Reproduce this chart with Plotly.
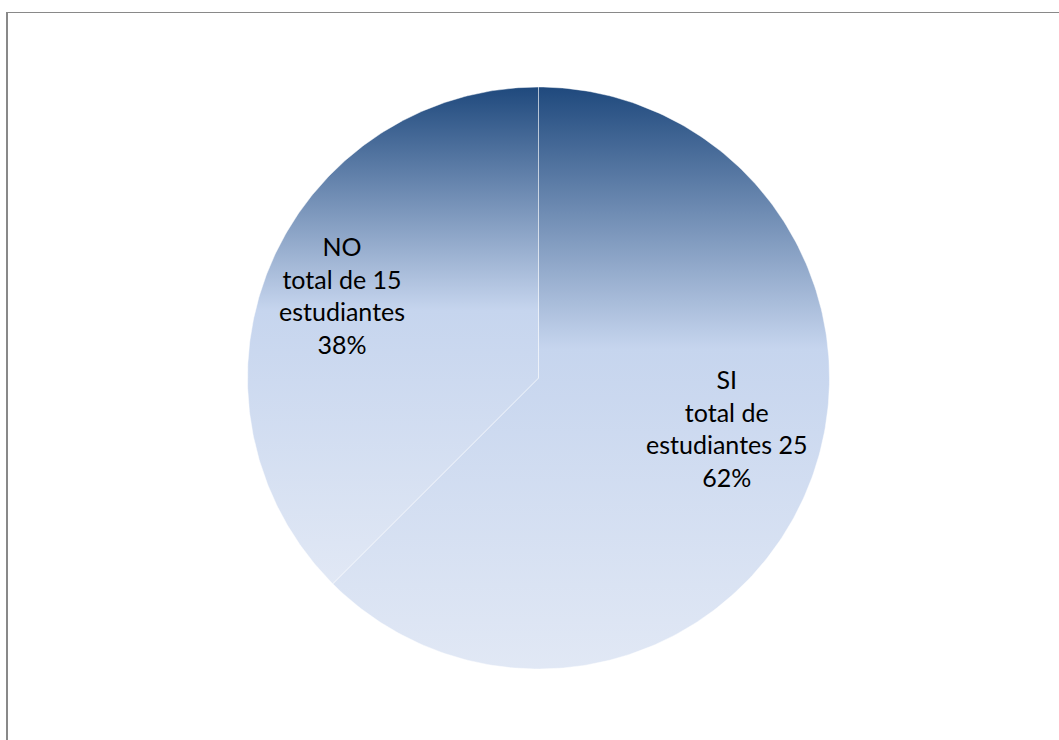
import numpy as np
import plotly.graph_objects as go

# Survey answers
categories = ["SI", "NO"]
students = [25, 15]
label_templates = [
    "{cat}<br>total de<br>estudiantes {n}<br>{pct}%",
    "{cat}<br>total de {n}<br>estudiantes<br>{pct}%",
]

# Canvas geometry (pixels): pie centre and radius
W, H = 1059, 740
CX, CY, R = 538.5, 378.0, 291.0

# Vertical gradient for every slice (0 = bottom of slice, 1 = top)
slice_gradient = [[0.0, "#e1e8f5"], [0.55, "#c6d5ee"], [1.0, "#1f497d"]]

total = sum(students)
fig = go.Figure()

# Slices laid out clockwise from 12 o'clock, in units of the radius
start = 90.0
label_pos = {"SI": (0.646, -0.172), "NO": (-0.675, 0.285)}
for cat, n, tpl in zip(categories, students, label_templates):
    sweep = 360.0 * n / total
    ang = np.radians(np.linspace(start, start - sweep, 240))
    xs = np.concatenate([[0.0], np.cos(ang), [0.0]])
    ys = np.concatenate([[0.0], np.sin(ang), [0.0]])
    fig.add_trace(go.Scatter(
        x=xs, y=ys, mode="lines", fill="toself",
        fillgradient=dict(type="vertical", colorscale=slice_gradient),
        line=dict(color="rgba(255,255,255,0.45)", width=1),
        hoverinfo="skip", showlegend=False,
    ))
    pct = round(100 * n / total)
    lx, ly = label_pos[cat]
    fig.add_annotation(
        x=lx, y=ly, xref="x", yref="y",
        text=tpl.format(cat=cat, n=n, pct=pct),
        showarrow=False, align="center",
        font=dict(family="Lato, 'Noto Sans', sans-serif", size=25, color="#000000"),
    )
    start -= sweep

# Chart-area frame (open at the right and bottom edges)
fig.add_shape(type="line", xref="paper", yref="paper",
              x0=7 / W, x1=7 / W, y0=0, y1=1 - 12.5 / H,
              line=dict(color="#898989", width=2))
fig.add_shape(type="line", xref="paper", yref="paper",
              x0=6 / W, x1=1, y0=1 - 12.5 / H, y1=1 - 12.5 / H,
              line=dict(color="#898989", width=1.2))

fig.update_xaxes(range=[-CX / R, (W - CX) / R], visible=False, fixedrange=True)
fig.update_yaxes(range=[-(H - CY) / R, CY / R], visible=False, fixedrange=True)
fig.update_layout(
    width=W, height=H,
    margin=dict(l=0, r=0, t=0, b=0),
    paper_bgcolor="white", plot_bgcolor="white",
    showlegend=False,
)

fig.write_html("out.html")
